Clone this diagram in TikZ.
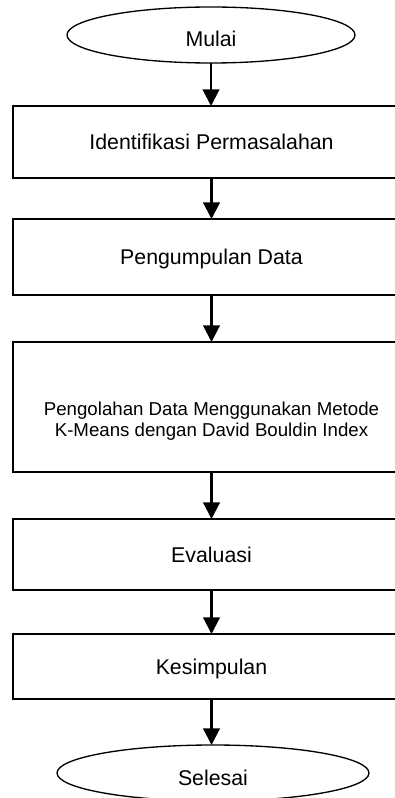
\documentclass[tikz,border=0pt]{standalone}
\usepackage{fontspec}
\setmainfont{Liberation Sans}
\usetikzlibrary{shapes.geometric,arrows.meta}
\newcommand{\lowertext}[2]{\raisebox{-#1}[\height][\depth]{#2}}
\begin{document}
\begin{tikzpicture}[x=0.75pt,y=-0.75pt,
  box/.style={draw,line width=1.4pt,rectangle,minimum width=297.75pt,inner sep=0pt,outer sep=0pt,
    font=\fontsize{16pt}{19pt}\selectfont},
  term/.style={draw,line width=1pt,ellipse,inner sep=0pt,outer sep=0pt,
    font=\fontsize{16pt}{19pt}\selectfont},
  flow/.style={-{Triangle[length=12.5pt,width=12.5pt]},line width=1.6pt}]
\useasboundingbox (0,0) rectangle (395,798);
\clip (0,0) rectangle (395,798);
\node[term,minimum width=216pt,minimum height=42pt] (start) at (211,35) {\lowertext{3pt}{Mulai}};
\node[box,minimum height=54pt] (b1) at (211.5,142) {Identifikasi Permasalahan};
\node[box,minimum height=57pt] (b2) at (211.5,257) {\lowertext{1.5pt}{Pengumpulan Data}};
\node[box,minimum height=97.5pt,font=\fontsize{14pt}{15.75pt}\selectfont] (b3) at (211.5,407)
  {\lowertext{11pt}{\begin{tabular}{@{}c@{}}Pengolahan Data Menggunakan Metode\\K-Means dengan David Bouldin Index\end{tabular}}};
\node[box,minimum height=53.25pt] (b4) at (211.5,554.5) {Evaluasi};
\node[box,minimum height=48.75pt] (b5) at (211.5,666.5) {\lowertext{1.5pt}{Kesimpulan}};
\node[term,minimum width=234pt,minimum height=42pt] (stop) at (213,773) {\lowertext{3.5pt}{Selesai}};
\draw[flow] (start.south) -- (start.south |- b1.north);
\draw[flow] (b1.south) -- (b2.north);
\draw[flow] (b2.south) -- (b3.north);
\draw[flow] (b3.south) -- (b4.north);
\draw[flow] (b4.south) -- (b5.north);
\draw[flow] (b5.south) -- (b5.south |- stop.north);
\end{tikzpicture}
\end{document}
